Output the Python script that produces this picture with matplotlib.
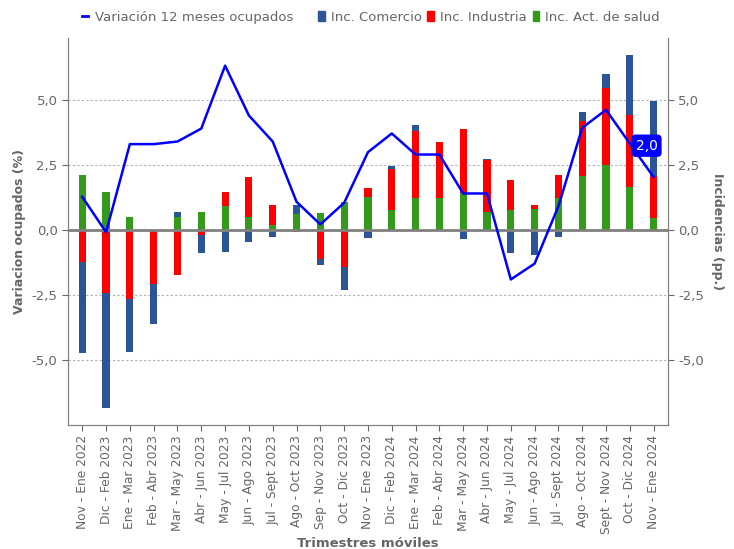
import numpy as np
import matplotlib
matplotlib.use("Agg")
import matplotlib.pyplot as plt
from matplotlib.lines import Line2D
from matplotlib.patches import Patch

# datos
periodos = ["Nov - Ene 2022", "Dic - Feb 2023", "Ene - Mar 2023", "Feb - Abr 2023",
            "Mar - May 2023", "Abr - Jun 2023", "May - Jul 2023", "Jun - Ago 2023",
            "Jul - Sept 2023", "Ago - Oct 2023", "Sep - Nov 2023", "Oct - Dic 2023",
            "Nov - Ene 2023", "Dic - Feb 2024", "Ene - Mar 2024", "Feb - Abr 2024",
            "Mar - May 2024", "Abr - Jun 2024", "May - Jul 2024", "Jun - Ago 2024",
            "Jul - Sept 2024", "Ago - Oct 2024", "Sept - Nov 2024", "Oct - Dic 2024",
            "Nov - Ene 2024"]
variacion = [1.28, -0.08, 3.31, 3.31, 3.41, 3.91, 6.33, 4.41, 3.41, 1.09, 0.22, 1.05,
             3.0, 3.72, 2.91, 2.91, 1.41, 1.41, -1.90, -1.29, 0.92, 3.94, 4.63, 3.33, 2.04]
comercio = [-3.5, -4.42, -2.03, -1.51, 0.17, -0.72, -0.86, -0.47, -0.27, 0.32, -0.22, -0.90,
            -0.32, 0.08, 0.23, 0.0, -0.36, 0.04, -0.87, -0.95, -0.26, 0.36, 0.55, 2.31, 2.9]
industria = [-1.22, -2.41, -2.67, -2.09, -1.71, -0.17, 0.55, 1.55, 0.77, -0.08, -1.13, -1.41,
             0.36, 1.58, 2.59, 2.19, 2.46, 2.0, 1.13, 0.15, 0.87, 2.12, 2.97, 2.77, 1.62]
salud = [2.13, 1.46, 0.49, 0.0, 0.51, 0.68, 0.91, 0.51, 0.18, 0.63, 0.64, 1.09,
         1.28, 0.79, 1.22, 1.22, 1.44, 0.68, 0.79, 0.83, 1.24, 2.08, 2.5, 1.65, 0.46]

gris = "#666666"
c_com, c_ind, c_sal, c_lin = "#2b5597", "#ff0000", "#339a1a", "#0000ff"

fig = plt.figure(figsize=(7.34, 5.49), dpi=100)
ax = fig.add_axes([0.0926, 0.226, 0.8174, 0.705])
ax2 = ax.twinx()

x = np.arange(len(periodos))
ylim = (-7.5, 7.4)

# barras apiladas: positivos y negativos por separado (salud, industria, comercio)
pos = np.zeros(len(x))
neg = np.zeros(len(x))
for serie, color in [(salud, c_sal), (industria, c_ind), (comercio, c_com)]:
    v = np.array(serie)
    base = np.where(v >= 0, pos, neg)
    ax2.bar(x, v, width=0.3, bottom=base, color=color, edgecolor=color, linewidth=0, zorder=2)
    pos = pos + np.where(v >= 0, v, 0)
    neg = neg + np.where(v < 0, v, 0)

ax2.set_ylim(*ylim)
ax.set_ylim(*ylim)
ax.set_zorder(ax2.get_zorder() + 1)
ax.patch.set_visible(False)

ax.plot(x, variacion, color=c_lin, lw=1.8, zorder=4)
ax.axhline(0, color="#808080", lw=2, zorder=3)
for g in [-5, -2.5, 2.5, 5]:
    ax2.axhline(g, color="#b0b0b0", lw=0.8, ls=(0, (2, 2)), zorder=0)

# etiqueta del ultimo valor
ax.annotate(f"{variacion[-1]:.1f}".replace(".", ","), xy=(x[-1], variacion[-1]),
            xytext=(x[-1] - 0.3, 3.25), ha="center", va="center", color="white", fontsize=10,
            bbox=dict(boxstyle="round,pad=0.25", fc=c_lin, ec=c_lin), zorder=6)

ticks = [-5, -2.5, 0, 2.5, 5]
lbls = [f"{t:.1f}".replace(".", ",") for t in ticks]
for a in (ax, ax2):
    a.set_yticks(ticks)
    a.set_yticklabels(lbls)
    a.tick_params(axis="y", colors=gris, labelsize=9.5, length=4)
    for s in a.spines.values():
        s.set_color("#808080")
    a.spines["top"].set_visible(False)

ax.set_xlim(-0.6, len(x) - 0.4)
ax.set_xticks(x)
ax.set_xticklabels(periodos, rotation=90, fontsize=8.8, color=gris)
ax.tick_params(axis="x", colors=gris, length=4)
ax2.tick_params(axis="x", length=0)

ax.set_ylabel("Variacion ocupados (%)", color=gris, fontweight="bold", fontsize=9)
ax2.set_ylabel("Incidencias (pp.)", color=gris, fontweight="bold", fontsize=9,
               rotation=270, labelpad=14)
ax.set_xlabel("Trimestres móviles", color=gris, fontweight="bold", fontsize=9.5, labelpad=2)

# leyenda en dos bloques (linea / barras)
leg_kw = dict(frameon=False, fontsize=9.5, handleheight=0.9, borderpad=0,
              borderaxespad=0, loc="center left")
leg1 = fig.legend([Line2D([0], [0], color=c_lin, lw=2)], ["Variación 12 meses ocupados"],
                  bbox_to_anchor=(82 / 734, 0.969), handlelength=0.45, handletextpad=0.5,
                  **leg_kw)
leg2 = fig.legend([Patch(color=c_com), Patch(color=c_ind), Patch(color=c_sal)],
                  ["Inc. Comercio", "Inc. Industria", "Inc. Act. de salud"],
                  bbox_to_anchor=(318 / 734, 0.969), ncol=3, handlelength=0.5,
                  handletextpad=0.45, columnspacing=0.45, **leg_kw)
for lg in (leg1, leg2):
    for t in lg.get_texts():
        t.set_color(gris)

fig.savefig("out.png", dpi=100)
